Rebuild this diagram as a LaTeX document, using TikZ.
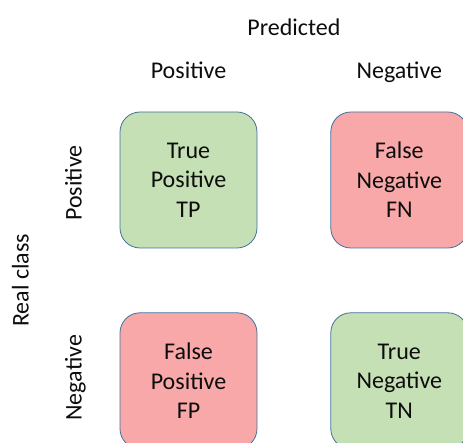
\documentclass[tikz,border=0pt]{standalone}
\usepackage{fontspec}
\setmainfont{Carlito}
\usepackage{xcolor}
\definecolor{ink}{HTML}{0D0D0D}
\definecolor{edge}{HTML}{41719C}
\definecolor{truec}{HTML}{C5E0B4}
\definecolor{falsec}{HTML}{F8A8A8}
\usetikzlibrary{positioning,calc}

\begin{document}
\begin{tikzpicture}[x=1pt,y=1pt,node distance=64pt and 73pt,every node/.style={font=\fontsize{24}{29.5}\selectfont,text=ink}]
\tikzstyle{cell}=[rounded corners=20pt,draw=edge,line width=0.8pt,minimum width=137pt,minimum height=136pt,align=center,inner sep=0pt]
\tikzstyle{lbl}=[inner sep=0pt,anchor=base]
\useasboundingbox (0,0) rectangle (463,442);
\clip (0,0) rectangle (463,442);
% the four cells
\node[cell,fill=truec] (tp) at (188.5,262) {True\\Positive\\TP};
\node[cell,fill=falsec,right=of tp] (fn) {False\\Negative\\FN};
\node[cell,fill=falsec,below=of tp] (fp) {False\\Positive\\FP};
\node[cell,fill=truec,below=of fn] (tn) {True\\Negative\\TN};
% predicted side
\node[lbl] (pcol) at ($(tp.north)+(0,33)$) {Positive};
\node[lbl] (ncol) at ($(fn.north)+(0,33)$) {Negative};
\node[lbl] (pred) at ($(pcol.base)!0.5!(ncol.base)+(0,43)$) {Predicted};
% real side
\node[lbl,rotate=90] (prow) at ($(tp.west)+(-38,-3)$) {Positive};
\node[lbl,rotate=90] (nrow) at ($(fp.west)+(-38,3)$) {Negative};
\node[lbl,rotate=90] (real) at ($(prow.base)!0.5!(nrow.base)+(-53,0)$) {Real class};
\end{tikzpicture}
\end{document}
